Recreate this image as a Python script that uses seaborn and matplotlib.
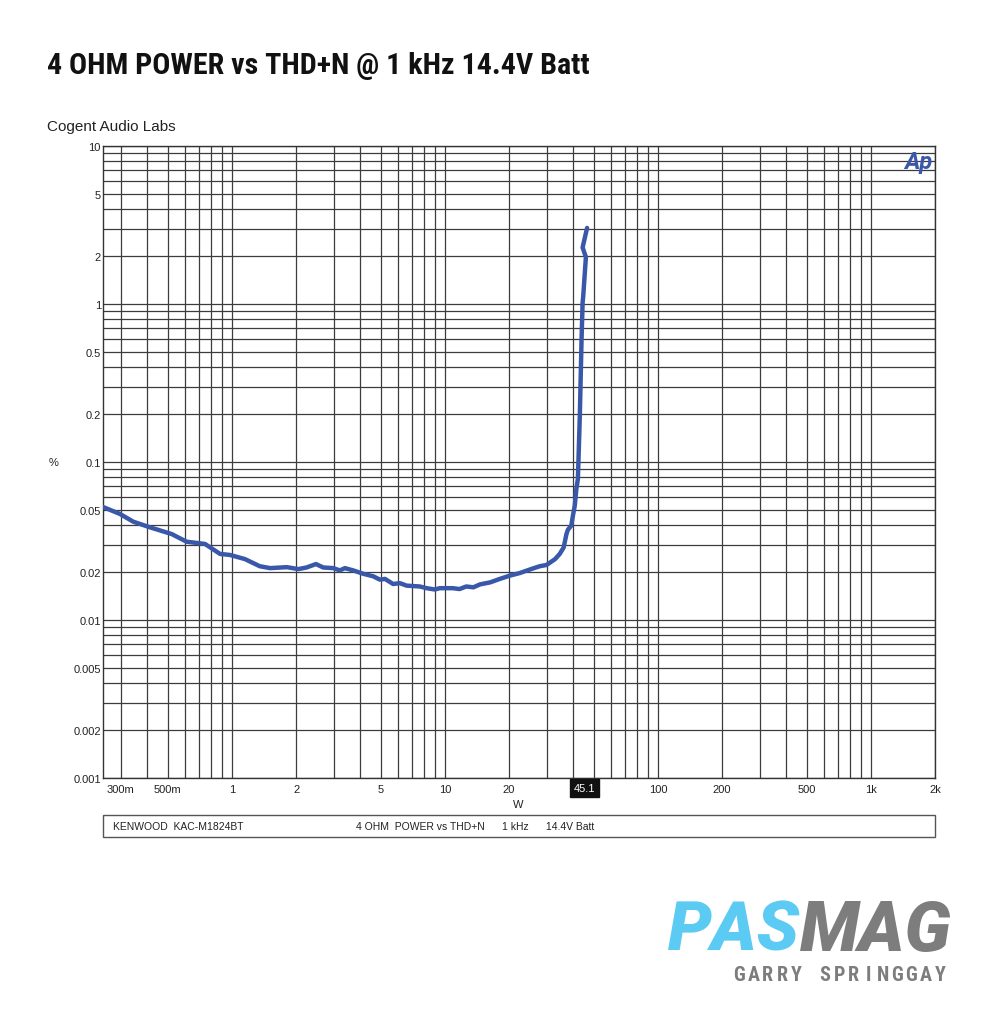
import matplotlib
matplotlib.use("Agg")
import matplotlib.pyplot as plt
import matplotlib.ticker as mticker
from matplotlib import font_manager
from matplotlib.patches import Rectangle
import seaborn as sns
import pandas as pd

# ---------------- data ----------------
power_w = [0.248, 0.298, 0.344, 0.412, 0.521, 0.612, 0.747, 0.879, 0.979, 1.15,
           1.35, 1.51, 1.81, 2.05, 2.24, 2.48, 2.68, 2.99, 3.21, 3.39,
           3.71, 4.14, 4.61, 4.95, 5.23, 5.71, 6.15, 6.61, 7.62, 8.20,
           8.96, 9.46, 10.9, 11.7, 12.6, 13.6, 14.6, 16.3, 18.1, 20.2,
           22.4, 25.9, 27.9, 30.0, 32.9, 34.6, 36.1, 37.2, 37.8, 39.2,
           39.9, 40.7, 41.4, 42.1, 43.0, 43.8, 44.3, 44.6, 45.9, 44.3, 46.5]
thd_pct = [0.0519, 0.0469, 0.0419, 0.0386, 0.0350, 0.0313, 0.0303, 0.0262, 0.0258, 0.0243,
           0.0219, 0.0213, 0.0216, 0.0210, 0.0215, 0.0226, 0.0215, 0.0213, 0.0206, 0.0213,
           0.0206, 0.0196, 0.0189, 0.0180, 0.0182, 0.0169, 0.0171, 0.0165, 0.0163, 0.0159,
           0.0156, 0.0159, 0.0159, 0.0157, 0.0163, 0.0161, 0.0168, 0.0173, 0.0182, 0.0191,
           0.0198, 0.0212, 0.0219, 0.0223, 0.0243, 0.0262, 0.0288, 0.0350, 0.0373, 0.0396,
           0.0458, 0.0529, 0.0675, 0.078, 0.20, 0.60, 1.02, 1.12, 1.98, 2.28, 3.03]

x_ticks = [0.3, 0.5, 1, 2, 5, 10, 20, 100, 200, 500, 1000, 2000]
x_tick_labels = ["300m", "500m", "1", "2", "5", "10", "20", "100", "200", "500", "1k", "2k"]
y_ticks = [10, 5, 2, 1, 0.5, 0.2, 0.1, 0.05, 0.02, 0.01, 0.005, 0.002, 0.001]
y_tick_labels = ["10", "5", "2", "1", "0.5", "0.2", "0.1", "0.05", "0.02", "0.01", "0.005", "0.002", "0.001"]
cursor_value = 45.1

title = "4 OHM POWER vs THD+N @ 1 kHz 14.4V Batt"
subtitle = "Cogent Audio Labs"
info_left = "KENWOOD  KAC-M1824BT"
info_right = "4 OHM  POWER vs THD+N      1 kHz      14.4V Batt"
brand_a = "PAS"
brand_b = "MAG"
author = "GARRY SPRINGGAY"

# ---------------- style ----------------
sns.set_style("white")
plt.rcParams['font.family'] = ['Liberation Sans', 'DejaVu Sans']

avail = {f.name for f in font_manager.fontManager.ttflist}
def pick(cands, default='DejaVu Sans'):
    for c in cands:
        if c in avail:
            return c
    return default

cond_font = pick(['Liberation Sans Narrow', 'DejaVu Sans Condensed', 'Roboto Condensed', 'Open Sans Condensed'])
logo_font = pick(['Roboto', 'Open Sans', 'Lato', 'DejaVu Sans'])

W, H = 1000, 1020
fig = plt.figure(figsize=(W / 100, H / 100), dpi=100)
fig.patch.set_facecolor('white')

def fx(x):
    return x / W
def fy(y):
    return 1 - y / H

L, R, T, B = 103, 935, 147, 779
ax = fig.add_axes([fx(L), fy(B), (R - L) / W, (B - T) / H])

df = pd.DataFrame({"W": power_w, "pct": thd_pct})
sns.lineplot(data=df, x="W", y="pct", sort=False, estimator=None, ax=ax,
             color="#3a58aa", linewidth=3.2, zorder=5)

ax.set_xscale('log')
ax.set_yscale('log')
ax.set_xlim(0.248, 2000)
ax.set_ylim(0.001, 10)

ax.xaxis.set_major_locator(mticker.FixedLocator(x_ticks))
ax.xaxis.set_major_formatter(mticker.FixedFormatter(x_tick_labels))
ax.yaxis.set_major_locator(mticker.FixedLocator(y_ticks))
ax.yaxis.set_major_formatter(mticker.FixedFormatter(y_tick_labels))
ax.xaxis.set_minor_locator(mticker.LogLocator(base=10, subs=range(1, 10), numticks=30))
ax.yaxis.set_minor_locator(mticker.LogLocator(base=10, subs=range(1, 10), numticks=30))
ax.xaxis.set_minor_formatter(mticker.NullFormatter())
ax.yaxis.set_minor_formatter(mticker.NullFormatter())
ax.tick_params(which='both', length=0, labelsize=8, colors='#222222')
ax.tick_params(axis='y', pad=1.5)
ax.tick_params(axis='x', pad=4.5)

ax.grid(True, which='both', color='#3c3c3c', linewidth=0.9)
ax.set_axisbelow(True)
for s in ax.spines.values():
    s.set_color('#333333')
    s.set_linewidth(1.0)
ax.set_xlabel("")
ax.set_ylabel("")

# cursor readout box
ax.text(cursor_value, 0.00093, f"{cursor_value}", transform=ax.transData,
        ha='center', va='top', fontsize=8, color='white',
        bbox=dict(boxstyle='square,pad=0.35', fc='#111111', ec='#111111'), zorder=10)

# Ap logo
ax.text(0.997, 0.993, "Ap", transform=ax.transAxes, ha='right', va='top',
        fontsize=17, fontweight='bold', style='italic', color='#3a58aa', family=logo_font)

# labels
fig.text(fx(54), fy(463), "%", fontsize=8, ha='center', va='center', color='#222222')
fig.text(fx(518), fy(805), "W", fontsize=8, ha='center', va='center', color='#222222')
fig.text(fx(47), fy(127), subtitle, fontsize=11, ha='left', va='center', color='#222222')

# info box
fig.add_artist(Rectangle((fx(103), fy(838)), (935 - 103) / W, (838 - 816) / H,
                         transform=fig.transFigure, fill=False, ec='#555555', lw=1.0))
fig.text(fx(113), fy(827), info_left, fontsize=7.5, ha='left', va='center', color='#222222')
fig.text(fx(356), fy(827), info_right, fontsize=7.5, ha='left', va='center', color='#222222')

renderer = fig.canvas.get_renderer()

def fit(t, width_px):
    bb = t.get_window_extent(renderer)
    t.set_fontsize(t.get_fontsize() * width_px / bb.width)

# title
tt = fig.text(fx(47), fy(74), title, fontsize=24, fontweight='bold', family=cond_font,
              ha='left', va='baseline', color='#111111')
fit(tt, 592 - 47)

# PASMAG logo
p1 = fig.text(fx(668), fy(953), brand_a, fontsize=50, fontweight='black', style='italic',
              family=logo_font, color='#5ccbf3', ha='left', va='baseline')
fit(p1, 800 - 668)
p2 = fig.text(fx(800), fy(953), brand_b, fontsize=p1.get_fontsize(), fontweight='black', style='italic',
              family=logo_font, color='#7d7d7d', ha='left', va='baseline')
fit(p2, 952 - 800)

# letter-spaced author line
x0, x1 = 732, 947
step = (x1 - x0) / len(author)
letters = []
for i, ch in enumerate(author):
    if ch == " ":
        continue
    letters.append(fig.text(fx(x0 + step * (i + 0.5)), fy(979), ch, fontsize=14.5, fontweight='bold',
                            family=cond_font, color='#7d7d7d', ha='center', va='baseline'))

# keep the author line's text box clear of the logo's text box
logo_bottom = min(p1.get_window_extent(renderer).y0, p2.get_window_extent(renderer).y0)
author_top = max(t.get_window_extent(renderer).y1 for t in letters)
gap = author_top - logo_bottom
if gap > -1:
    shift_up = (gap + 1) / 2.0
    for t in (p1, p2):
        x, y = t.get_position()
        t.set_position((x, y + shift_up / H))
    for t in letters:
        x, y = t.get_position()
        t.set_position((x, y - shift_up / H))

fig.savefig("out.png", dpi=100, facecolor='white')
